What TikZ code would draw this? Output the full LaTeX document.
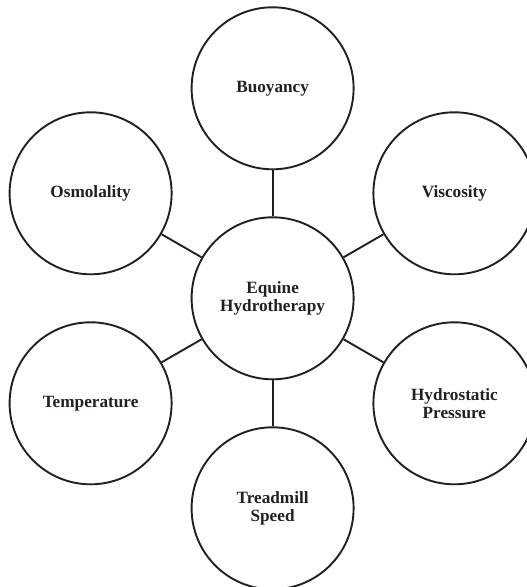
\documentclass[tikz,border=0pt]{standalone}
\usepackage{fontspec}
\setmainfont{Liberation Serif}
\definecolor{ink}{HTML}{231F20}
\begin{document}
\begin{tikzpicture}[x=1bp,y=-1bp,
  bubble/.style={circle, draw=ink, line width=1.9bp, minimum size=162bp, inner sep=0pt,
    text=ink, align=center, font=\fontsize{17.2bp}{17.8bp}\selectfont\bfseries},
  link/.style={draw=ink, line width=1.9bp}]
\useasboundingbox (0,0) rectangle (527,587);
\clip (0,0) rectangle (527,587);
\node[bubble] (c) at (272.6,298.3) {Equine\\Hydrotherapy};
\node[bubble] (b) at (272.6,88.3) {Buoyancy};
\node[bubble] (o) at (90.6,193.3) {Osmolality};
\node[bubble] (v) at (454.4,193.3) {Viscosity};
\node[bubble] (t) at (90.6,403.3) {Temperature};
\node[bubble] (h) at (454.4,403.3) {Hydrostatic\\Pressure};
\node[bubble] (s) at (272.6,508.3) {Treadmill\\Speed};
\foreach \n in {b,o,v,t,h,s} \draw[link] (c) -- (\n);
\end{tikzpicture}
\end{document}
